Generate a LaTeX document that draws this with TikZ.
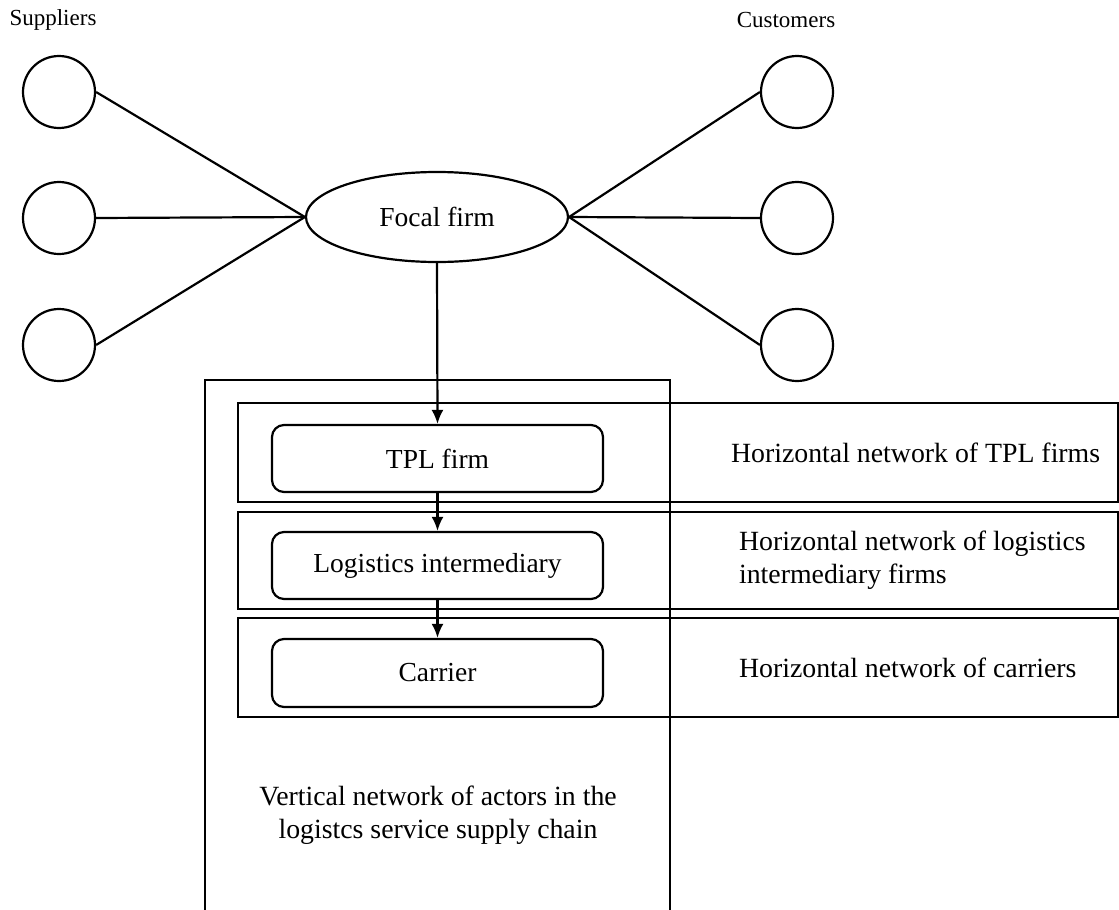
\documentclass[tikz,border=0pt]{standalone}
\usepackage{fontspec}
\setmainfont{Liberation Serif}
\usetikzlibrary{shapes.geometric,arrows.meta}

\begin{document}
\begin{tikzpicture}[x=1pt,y=-1pt,line width=2.2pt,
    actor/.style = {draw, circle, minimum size=72pt, inner sep=0pt},
    firm/.style = {draw, rounded corners=12pt, minimum width=331pt, minimum height=67pt,
                   font=\fontsize{27.5}{33}\selectfont},
    band/.style = {draw, minimum width=880pt, inner sep=0pt},
    txt/.style = {font=\fontsize{27.8}{33}\selectfont, inner sep=0pt},
    lbl/.style = {font=\fontsize{23}{27}\selectfont, inner sep=0pt},
    flow/.style = {-{Latex[length=14pt,width=12pt]}}]
            \useasboundingbox (0,0) rectangle (1119,910);

            \node[lbl](suppliers) at (53,20) {Suppliers};
            \node[lbl](customers) at (786,20) {Customers};

            \node[actor](s1) at (59,92){};
            \node[actor](s2) at (59,218){};
            \node[actor](s3) at (59,345){};
            \node[actor](c1) at (797,92){};
            \node[actor](c2) at (797,218){};
            \node[actor](c3) at (797,345){};

            \node[draw, ellipse, minimum width=262pt, minimum height=90pt, inner sep=0pt,
                  font=\fontsize{27.5}{33}\selectfont](focal) at (437,217) {Focal firm};

            \draw (s1.east) -- (focal.west);\draw (s2.east) -- (focal.west);\draw (s3.east) -- (focal.west);
            \draw (c1.west) -- (focal.east);\draw (c2.west) -- (focal.east);\draw (c3.west) -- (focal.east);

            % vertical network frame, open at the bottom
            \draw (205,915) -- (205,380) -- (670,380) -- (670,915);

            \node[band, minimum height=99pt](h1) at (678,452.5){};
            \node[band, minimum height=97pt](h2) at (678,560.5){};
            \node[band, minimum height=99pt](h3) at (678,667.5){};

            \node[firm](tpl) at (437.5,458.5) {TPL firm};
            \node[firm](inter) at (437.5,565.5) {Logistics intermediary};
            \node[firm, minimum height=68pt](carrier) at (437.5,673) {Carrier};

            \draw[flow] (focal.south) -- (tpl.north);
            \draw[flow] (tpl.south) -- (inter.north);
            \draw[flow] (inter.south) -- (carrier.north);

            \node[txt, anchor=west](htpl) at (730,453) {Horizontal network of TPL firms};
            \node[txt, anchor=west, align=left](hinter) at (738,560) {Horizontal network of logistics\\intermediary firms};
            \node[txt, anchor=west](hcar) at (738,668) {Horizontal network of carriers};

            \node[txt, align=center](vert) at (438,815) {Vertical network of actors in the\\logistcs service supply chain};
        \end{tikzpicture}
\end{document}
